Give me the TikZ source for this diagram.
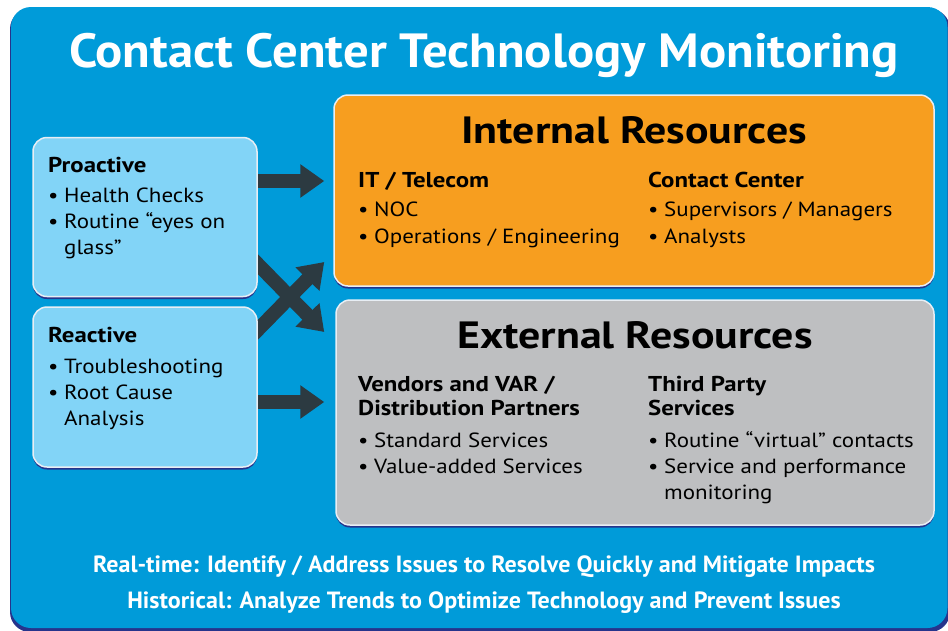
\documentclass[tikz,border=0pt]{standalone}
\usepackage{fontspec}
\setmainfont{PT Sans}
\newfontfamily\bodyf{PT Sans}[FakeStretch=1.12]
\newfontfamily\boldf{PT Sans}[FakeStretch=1.155]
\newfontfamily\titlef{PT Sans}[FakeStretch=1.057]
\newfontfamily\footf{PT Sans}[FakeStretch=1.023]
\usetikzlibrary{arrows.meta,shadows}
\pgfdeclarelayer{back}
\pgfdeclarelayer{arr}
\pgfsetlayers{back,arr,main}
\definecolor{bgblue}{RGB}{0,155,217}
\definecolor{lblue}{RGB}{130,212,247}
\definecolor{orng}{RGB}{247,158,31}
\definecolor{gry}{RGB}{190,191,193}
\definecolor{darkarr}{RGB}{44,58,65}
\definecolor{navy}{RGB}{38,52,140}
\definecolor{rim}{RGB}{232,238,244}
\tikzset{
  card/.style={rounded corners=14pt, draw=rim, line width=1.5pt, inner sep=0pt,
    drop shadow={shadow xshift=0pt, shadow yshift=-2.5pt, fill=navy, opacity=1}},
  bigarrow/.style={draw=darkarr, line width=14pt, -{Triangle[width=32pt,length=24pt]}},
  txt/.style={anchor=base west, inner sep=0pt, font=\bodyf\fontsize{20.5}{26}\selectfont},
  sub/.style={anchor=base west, inner sep=0pt, font=\boldf\fontsize{21.5}{26}\selectfont\bfseries},
  head/.style={anchor=base, inner sep=0pt, font=\boldf\fontsize{38}{44}\selectfont\bfseries},
  foot/.style={anchor=base, inner sep=0pt, text=white, font=\footf\fontsize{23.5}{28}\selectfont\bfseries},
}
\newcommand{\bul}[1]{\makebox[16pt][l]{•}#1}
\newcommand{\ind}[1]{\hspace*{16pt}#1}
\begin{document}
\begin{tikzpicture}[x=1pt,y=-1pt]
\useasboundingbox (0,0) rectangle (948,630);
\begin{pgfonlayer}{back}
\fill[white] (0,0) rectangle (948,630);
\fill[navy, rounded corners=20pt] (10,9) rectangle (950,632);
\fill[bgblue, rounded corners=20pt] (11,7) rectangle (947.5,628);
\end{pgfonlayer}

\node[anchor=base, inner sep=0pt, text=white, font=\titlef\fontsize{48}{56}\selectfont\bfseries] (title) at (484,67) {Contact Center Technology Monitoring};

% boxes
\node[card, fill=lblue, minimum width=224pt, minimum height=159pt] (pro) at (145,217) {};
\node[card, fill=lblue, minimum width=224pt, minimum height=160pt] (rea) at (145,387) {};
\node[card, fill=orng, minimum width=600pt, minimum height=191pt] (int) at (634,190.5) {};
\node[card, fill=gry, minimum width=598pt, minimum height=225pt] (ext) at (635,412.5) {};

% arrows
\begin{pgfonlayer}{arr}
\draw[bigarrow] ([xshift=-7pt,yshift=36pt]pro.east) -- ([xshift=-9pt,yshift=9.5pt]int.west);
\draw[bigarrow] ([xshift=-7pt,yshift=-40pt]pro.east) -- ([xshift=-11pt,yshift=80.5pt]ext.west);
\draw[bigarrow] ([xshift=-7pt,yshift=50pt]rea.east) -- ([xshift=-9pt,yshift=-71.5pt]int.west);
\draw[bigarrow] ([xshift=-7pt,yshift=-15pt]rea.east) -- ([xshift=-11pt,yshift=10.5pt]ext.west);
\end{pgfonlayer}

% proactive
\node[sub] (p0) at (48,172) {Proactive};
\node[txt] (p1) at (48,202) {\bul{Health Checks}};
\node[txt] (p2) at (48,228) {\bul{Routine “eyes on}};
\node[txt] (p3) at (48,254) {\ind{glass”}};
% reactive
\node[sub] (r0) at (48,342) {Reactive};
\node[txt] (r1) at (48,373) {\bul{Troubleshooting}};
\node[txt] (r2) at (48,399) {\bul{Root Cause}};
\node[txt] (r3) at (48,425) {\ind{Analysis}};

% internal
\node[head] (ih) at (634,143) {Internal Resources};
\node[sub] (i0) at (358,187) {IT / Telecom};
\node[txt] (i1) at (358,216) {\bul{NOC}};
\node[txt] (i2) at (358,243) {\bul{Operations / Engineering}};
\node[sub] (c0) at (648,187) {Contact Center};
\node[txt] (c1) at (648,216) {\bul{Supervisors / Managers}};
\node[txt] (c2) at (648,243) {\bul{Analysts}};

% external
\node[head] (eh) at (635,348) {External Resources};
\node[sub] (v0) at (358,391) {Vendors and VAR /};
\node[sub] (v1) at (358,415) {Distribution Partners};
\node[txt] (v2) at (358,447) {\bul{Standard Services}};
\node[txt] (v3) at (358,473) {\bul{Value-added Services}};
\node[sub] (t0) at (648,391) {Third Party};
\node[sub] (t1) at (648,415) {Services};
\node[txt] (t2) at (648,447) {\bul{Routine “virtual” contacts}};
\node[txt] (t3) at (648,473) {\bul{Service and performance}};
\node[txt] (t4) at (648,499) {\ind{monitoring}};

% footer
\node[foot] (f1) at (484,572) {Real-time: Identify / Address Issues to Resolve Quickly and Mitigate Impacts};
\node[foot] (f2) at (484,608) {Historical: Analyze Trends to Optimize Technology and Prevent Issues};
\end{tikzpicture}
\end{document}
